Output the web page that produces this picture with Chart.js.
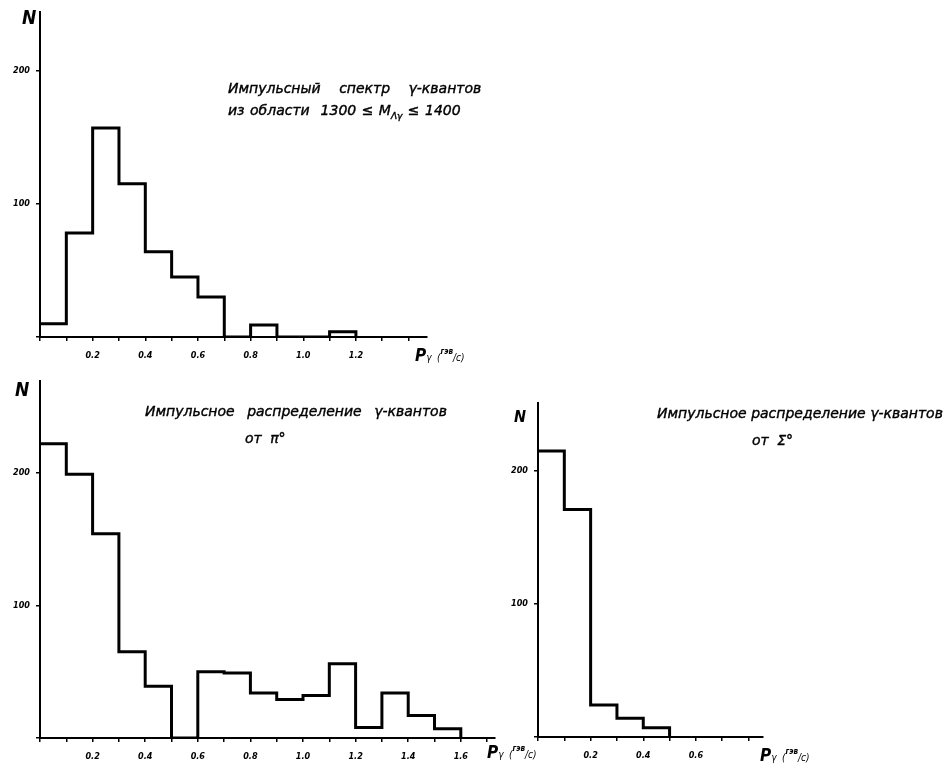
<!DOCTYPE html>
<html>
<head>
<meta charset="utf-8">
<script src="https://cdn.jsdelivr.net/npm/chart.js"></script>
<style>
    body {
        margin: 0;
        width: 951px;
        height: 777px;
        background: #fff;
        position: relative;
        overflow: hidden;
        font-family: "DejaVu Sans Condensed", "DejaVu Sans", sans-serif;
    }
    canvas { position: absolute; }
    .lbl {
        position: absolute;
        font-style: italic;
        font-weight: bold;
        color: #000;
        white-space: nowrap;
        line-height: 1;
    }
    .title {
        font-family: "DejaVu Sans", sans-serif;
        font-size: 14px;
        font-weight: normal;
        -webkit-text-stroke: 0.4px #000;
    }
    .n { font-size: 19px; }
    .p { font-size: 17px; }
    .p small { font-size: 10px; font-weight: normal; }
</style>
</head>
<body>
<canvas id="topChart" width="500" height="375" style="left:0;top:0;width:500px;height:375px"></canvas>
<canvas id="pi0Chart" width="520" height="407" style="left:0;top:370px;width:520px;height:407px"></canvas>
<canvas id="sigmaChart" width="300" height="407" style="left:498px;top:370px;width:300px;height:407px"></canvas>

<div class="lbl n" style="left:22px;top:8px">N</div>
<div class="lbl title" style="left:228px;top:81px;word-spacing:14px">Импульсный спектр γ-квантов</div>
<div class="lbl title" style="left:228px;top:103px;word-spacing:1px">из области&nbsp; 1300 ≤ M<sub style="font-size:9px">Λγ</sub> ≤ 1400</div>
<div class="lbl p" style="left:415px;top:347px">P<small>γ</small> <small>(</small><sup style="font-size:8px">гэв</sup><small>/с)</small></div>

<div class="lbl n" style="left:15px;top:380px">N</div>
<div class="lbl title" style="left:145px;top:404px;word-spacing:8px">Импульсное распределение γ-квантов</div>
<div class="lbl title" style="left:245px;top:431px;word-spacing:4px">от π°</div>
<div class="lbl p" style="left:487px;top:744px">P<small>γ</small> <small>(</small><sup style="font-size:8px">гэв</sup><small>/с)</small></div>

<div class="lbl n" style="left:514px;top:409px;font-size:16px">N</div>
<div class="lbl title" style="left:657px;top:406px;word-spacing:0">Импульсное распределение γ-квантов</div>
<div class="lbl title" style="left:752px;top:433px;word-spacing:4px">от Σ°</div>
<div class="lbl p" style="left:760px;top:747px">P<small>γ</small> <small>(</small><sup style="font-size:8px">гэв</sup><small>/с)</small></div>

<script>
    // bin lower edges (GeV/c), bin width 0.1
    const topBins = [0, 0.1, 0.2, 0.3, 0.4, 0.5, 0.6, 0.7, 0.8, 0.9, 1.0, 1.1];
    const topCounts = [10, 78, 157, 115, 64, 45, 30, 0, 9, 0, 0, 4];
    const topLabels = ['0.2', '0.4', '0.6', '0.8', '1.0', '1.2'];

    const pi0Bins = [0, 0.1, 0.2, 0.3, 0.4, 0.5, 0.6, 0.7, 0.8, 0.9, 1.0, 1.1, 1.2, 1.3, 1.4, 1.5];
    const pi0Counts = [222, 199, 154, 65, 39, 0, 50, 49, 34, 29, 32, 56, 8, 34, 17, 7];
    const pi0Labels = ['0.2', '0.4', '0.6', '0.8', '1.0', '1.2', '1.4', '1.6'];

    const sigmaBins = [0, 0.1, 0.2, 0.3, 0.4];
    const sigmaCounts = [215, 171, 24, 14, 7];
    const sigmaLabels = ['0.2', '0.4', '0.6'];

    const binWidth = 0.1;
    const yTickValues = [100, 200];

    // histogram outline: one point per bin start, stepped line closes at last edge
    const histPoints = (bins, counts) => {
        const pts = bins.map((x, i) => ({x: x, y: counts[i]}));
        pts.push({x: bins[bins.length - 1] + binWidth, y: 0});
        return pts;
    };

    const tickFont = {family: '"DejaVu Sans Condensed", sans-serif', size: 9, weight: 'bold', style: 'italic'};

    const makeHist = (id, bins, counts, labels, cfg) => {
        new Chart(document.getElementById(id), {
            type: 'line',
            data: {
                datasets: [{
                    data: histPoints(bins, counts),
                    stepped: 'before',
                    borderColor: '#000',
                    borderWidth: 3,
                    borderJoinStyle: 'miter',
                    pointRadius: 0,
                    fill: false
                }]
            },
            options: {
                responsive: false,
                animation: false,
                layout: {padding: {left: 0, top: cfg.top, right: cfg.right, bottom: 0}},
                plugins: {legend: {display: false}, tooltip: {enabled: false}},
                scales: {
                    x: {
                        type: 'linear',
                        min: 0,
                        max: cfg.xMax,
                        border: {color: '#000', width: 2},
                        grid: {drawOnChartArea: false, color: '#000', tickLength: 4, lineWidth: 1.5},
                        ticks: {
                            stepSize: binWidth,
                            includeBounds: false,
                            autoSkip: false,
                            maxRotation: 0,
                            padding: 9,
                            color: '#000',
                            font: tickFont,
                            callback: (value) => {
                                const txt = value.toFixed(1);
                                return labels.includes(txt) ? txt : '';
                            }
                        },
                        afterFit: (scale) => { scale.height = cfg.xHeight; }
                    },
                    y: {
                        min: 0,
                        max: cfg.yMax,
                        border: {color: '#000', width: 2},
                        grid: {drawOnChartArea: false, color: '#000', tickLength: 4, lineWidth: 1.5},
                        ticks: {
                            stepSize: 100,
                            includeBounds: false,
                            padding: 6,
                            color: '#000',
                            font: tickFont,
                            callback: (value) => yTickValues.includes(value) ? String(value) : ''
                        },
                        afterFit: (scale) => { scale.width = 40; }
                    }
                }
            }
        });
    };

    makeHist('topChart', topBins, topCounts, topLabels, {top: 12, right: 73, xHeight: 38, xMax: 1.47, yMax: 244});
    makeHist('pi0Chart', pi0Bins, pi0Counts, pi0Labels, {top: 10, right: 25, xHeight: 39, xMax: 1.73, yMax: 269});
    makeHist('sigmaChart', sigmaBins, sigmaCounts, sigmaLabels, {top: 33, right: 35, xHeight: 40, xMax: 0.855, yMax: 251});
</script>
</body>
</html>
